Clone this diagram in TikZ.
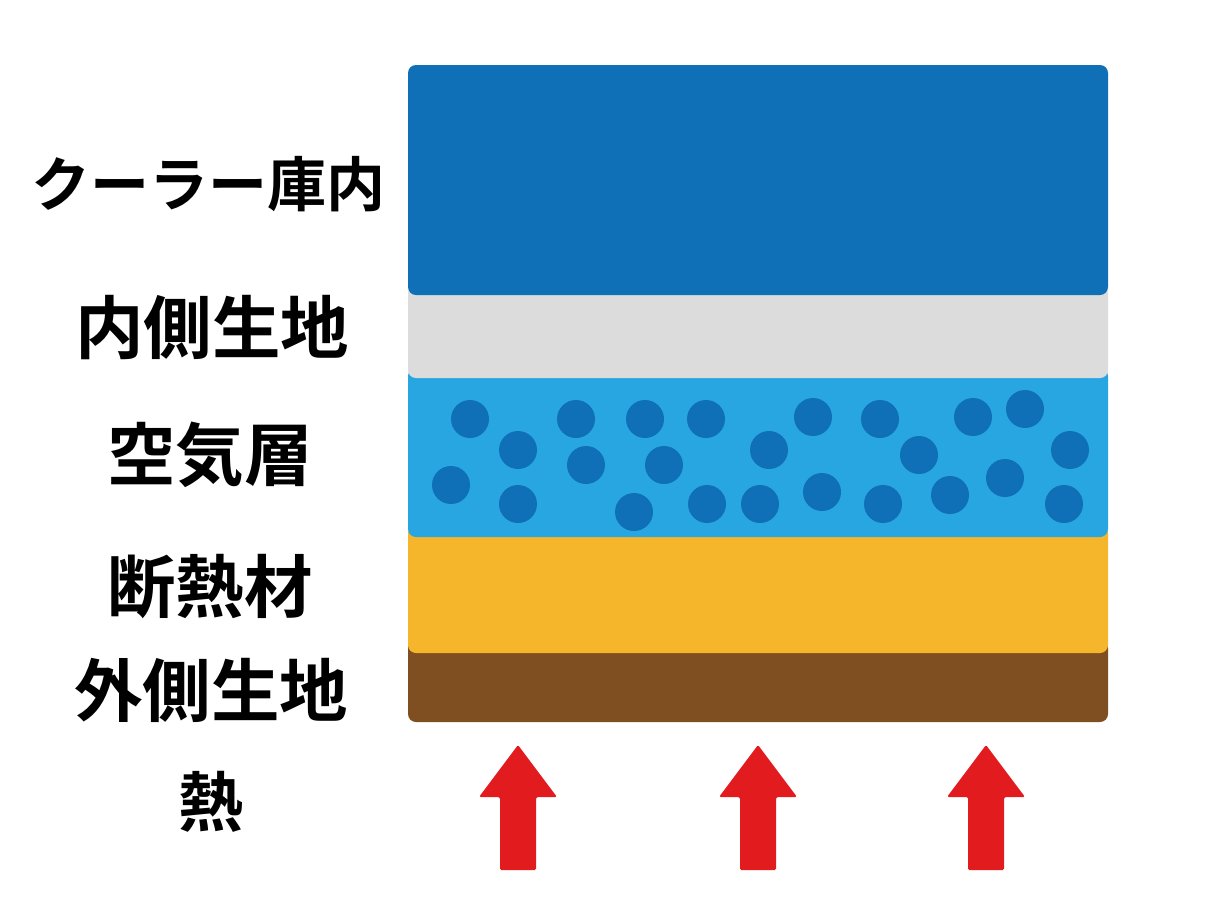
\documentclass[tikz,border=0pt]{standalone}
\usepackage{fontspec}
\newfontfamily\jp{Noto Sans CJK JP}[BoldFont={Noto Sans CJK JP Bold}]
\definecolor{cdeep}{HTML}{0F6FB7}
\definecolor{cgray}{HTML}{DCDCDC}
\definecolor{clight}{HTML}{27A6E1}
\definecolor{corange}{HTML}{F6B62B}
\definecolor{cbrown}{HTML}{7F4E21}
\definecolor{cred}{HTML}{E11B1E}
\begin{document}
\begin{tikzpicture}[x=1pt,y=-1pt,
  layer/.style={rounded corners=8pt},
  lab/.style={font=\jp\bfseries\fontsize{68.5}{70}\selectfont, inner sep=0pt, anchor=center},
  bubble/.style={fill=cdeep},
  heatarrow/.style={fill=cred, rounded corners=1.5pt}]
\useasboundingbox (0,0) rectangle (1230,900);
% layers, bottom first
\fill[layer, cbrown] (408,640) rectangle (1108,722);
\fill[layer, corange] (408,525) rectangle (1108,653);
\fill[layer, clight] (408,368) rectangle (1108,537);
\fill[layer, cgray] (408,285) rectangle (1108,378);
\fill[layer, cdeep] (408,65) rectangle (1108,295);
% air bubbles
\foreach \px/\py in {470/419, 518/450, 451/485, 518/504, 576/419, 586/465, 645/419, 664/465, 634/512, 706/419, 707/504, 769/450, 760/504, 813/417, 822/492, 880/419, 883/504, 919/455, 950/495, 973/417, 1025/409, 1005/478, 1070/450, 1064/504}
  \fill[bubble] (\px,\py) circle[radius=19];
% heat arrows
\foreach \cx in {518, 758, 986}
  \fill[heatarrow] (\cx,745) -- (\cx+39,797) -- (\cx+18,797) -- (\cx+18,870) -- (\cx-18,870) -- (\cx-18,797) -- (\cx-39,797) -- cycle;
% labels
\node[lab, font=\jp\bfseries\fontsize{59}{60}\selectfont] (cooler) at (208,184) {クーラー庫内};
\node[lab] (inner) at (212,328) {内側生地};
\node[lab] (air) at (210,455) {空気層};
\node[lab] (insul) at (210,587) {断熱材};
\node[lab] (outer) at (211,690) {外側生地};
\node[lab, font=\jp\bfseries\fontsize{65}{66}\selectfont] (heat) at (211,802) {熱};
\end{tikzpicture}
\end{document}
